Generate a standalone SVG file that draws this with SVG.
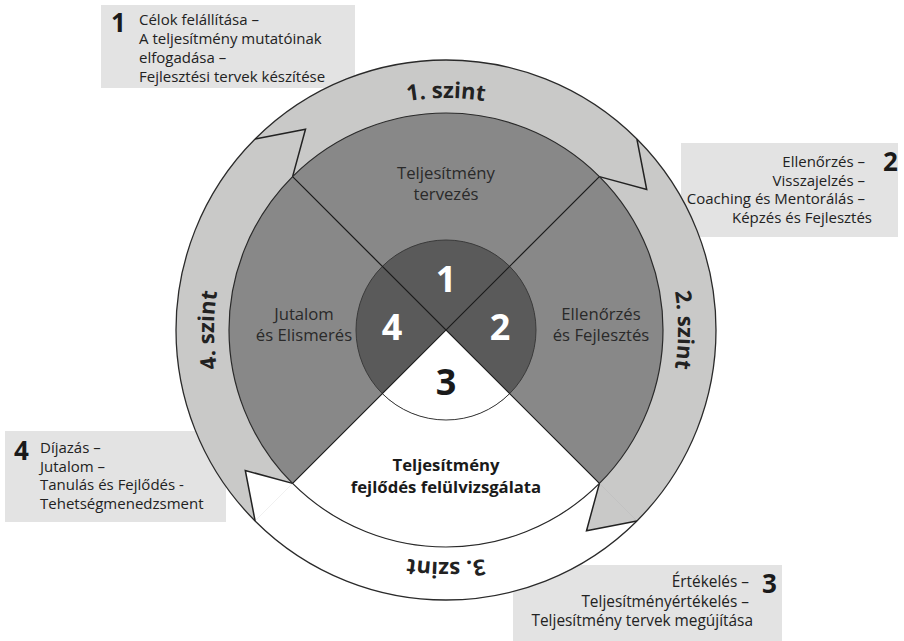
<svg xmlns="http://www.w3.org/2000/svg" width="904" height="641" viewBox="0 0 904 641">
<style>
.box{fill:#e3e3e3}
.bt{font-family:"Open Sans","Noto Sans","DejaVu Sans",sans-serif;font-size:15px;fill:#222}
.bt3{font-size:15.4px}
.bn{font-family:"Open Sans","Noto Sans","DejaVu Sans",sans-serif;font-size:26px;font-weight:700;fill:#1a1a1a}
.lbl{font-family:"Open Sans","Noto Sans","DejaVu Sans",sans-serif;font-size:16.7px;fill:#2a2a2a;text-anchor:middle}
.lblb{font-family:"Open Sans","Noto Sans","DejaVu Sans",sans-serif;font-size:16.7px;font-weight:700;fill:#1a1a1a;text-anchor:middle}
.num{font-family:"Open Sans","Noto Sans","DejaVu Sans",sans-serif;font-size:36px;font-weight:700;text-anchor:middle}
.szint{font-family:"Open Sans","Noto Sans","DejaVu Sans",sans-serif;font-size:22px;font-weight:700;fill:#222;text-anchor:middle}
.edge{fill:none;stroke:#222;stroke-width:1.5;stroke-linejoin:miter}
</style>
<defs>
<path id="szintPath" d="M281.95,494.05 A232,232 0 0 1 281.95,165.95 A232,232 0 0 1 610.05,165.95 A232,232 0 0 1 610.05,494.05 A232,232 0 0 1 281.95,494.05"/>
</defs>

<g id="box-1">
<rect class="box" x="101" y="5" width="254" height="83"/>
<text class="bn" x="111" y="31.5">1</text>
<text class="bt" x="139" y="25">Célok felállítása –</text>
<text class="bt" x="139" y="44">A teljesítmény mutatóinak</text>
<text class="bt" x="139" y="63">elfogadása –</text>
<text class="bt" x="139" y="82">Fejlesztési tervek készítése</text>
</g>
<g id="box-2">
<rect class="box" x="681" y="143" width="217" height="94"/>
<text class="bn" x="883" y="171">2</text>
<text class="bt" x="865" y="167" text-anchor="end">Ellenőrzés –</text>
<text class="bt" x="865" y="185.5" text-anchor="end">Visszajelzés –</text>
<text class="bt" x="865" y="204" text-anchor="end">Coaching és Mentorálás –</text>
<text class="bt" x="872" y="222.5" text-anchor="end">Képzés és Fejlesztés</text>
</g>
<g id="box-4">
<rect class="box" x="5" y="431" width="221" height="91"/>
<text class="bn" x="14" y="460">4</text>
<text class="bt" x="40" y="453">Díjazás –</text>
<text class="bt" x="40" y="471.5">Jutalom –</text>
<text class="bt" x="40" y="490">Tanulás és Fejlődés -</text>
<text class="bt" x="40" y="508.5">Tehetségmenedzsment</text>
</g>
<g id="box-3">
<rect class="box" x="513" y="565" width="269" height="76"/>
<text class="bn" x="762" y="593">3</text>
<text class="bt bt3" x="749" y="587" text-anchor="end">Értékelés –</text>
<text class="bt bt3" x="749" y="606.5" text-anchor="end">Teljesítményértékelés –</text>
<text class="bt bt3" x="753" y="626" text-anchor="end">Teljesítmény tervek megújítása</text>
</g>

<g id="ring">
<circle cx="446" cy="330" r="270" fill="#c9c9c8"/>
<path id="arrow-3" d="M636.9,520.9 L586.5,530.7 L599.4,483.4 A217,217 0 0 1 292.6,483.4 L245.3,470.5 L255.1,520.9 A270,270 0 0 0 636.9,520.9 Z" fill="#ffffff"/>
<line x1="599.4" y1="483.4" x2="636.9" y2="520.9" stroke="#bdbdbd" stroke-width="0.6"/>
<line x1="292.6" y1="483.4" x2="255.1" y2="520.9" stroke="#e6e6e6" stroke-width="0.6"/>
<circle cx="446" cy="330" r="270" fill="none" stroke="#2a2a2a" stroke-width="1.3"/>
<polyline class="edge" points="292.6,176.6 305.5,129.3 255.1,139.1"/>
<polyline class="edge" points="599.4,176.6 646.7,189.5 636.9,139.1"/>
<polyline class="edge" points="599.4,483.4 586.5,530.7 636.9,520.9"/>
<polyline class="edge" points="292.6,483.4 245.3,470.5 255.1,520.9"/>
<text class="szint"><textPath href="#szintPath" startOffset="37.5%">1. szint</textPath></text>
<text class="szint"><textPath href="#szintPath" startOffset="62.5%">2. szint</textPath></text>
<text class="szint"><textPath href="#szintPath" startOffset="87.5%">3. szint</textPath></text>
<text class="szint"><textPath href="#szintPath" startOffset="12.5%">4. szint</textPath></text>
</g>

<g id="quadrants">
<circle cx="446" cy="330" r="217" fill="#888888"/>
<path d="M446,330 L599.4,483.4 A217,217 0 0 1 292.6,483.4 Z" fill="#ffffff"/>
<circle cx="446" cy="330" r="217" fill="none" stroke="#2a2a2a" stroke-width="1.2"/>
<circle cx="446" cy="330" r="90" fill="#5a5a5a"/>
<path d="M446,330 L509.6,393.6 A90,90 0 0 1 382.4,393.6 Z" fill="#ffffff"/>
<circle cx="446" cy="330" r="90" fill="none" stroke="#3a3a3a" stroke-width="1"/>
</g>

<g id="connectors">
<line x1="292.6" y1="176.6" x2="599.4" y2="483.4" stroke="#1a1a1a" stroke-width="1.2"/>
<line x1="599.4" y1="176.6" x2="292.6" y2="483.4" stroke="#1a1a1a" stroke-width="1.2"/>
</g>

<g id="node-1">
<text class="lbl" x="446" y="179">Teljesítmény</text>
<text class="lbl" x="446" y="200">tervezés</text>
<text class="num" x="446" y="292" fill="#ffffff">1</text>
</g>
<g id="node-2">
<text class="lbl" x="601" y="320">Ellenőrzés</text>
<text class="lbl" x="601" y="341">és Fejlesztés</text>
<text class="num" x="500" y="340" fill="#ffffff">2</text>
</g>
<g id="node-3">
<text class="lblb" x="446" y="471">Teljesítmény</text>
<text class="lblb" x="446" y="493">fejlődés felülvizsgálata</text>
<text class="num" x="446" y="395" fill="#1a1a1a">3</text>
</g>
<g id="node-4">
<text class="lbl" x="304" y="320">Jutalom</text>
<text class="lbl" x="304" y="341">és Elismerés</text>
<text class="num" x="392" y="340" fill="#ffffff">4</text>
</g>
</svg>
